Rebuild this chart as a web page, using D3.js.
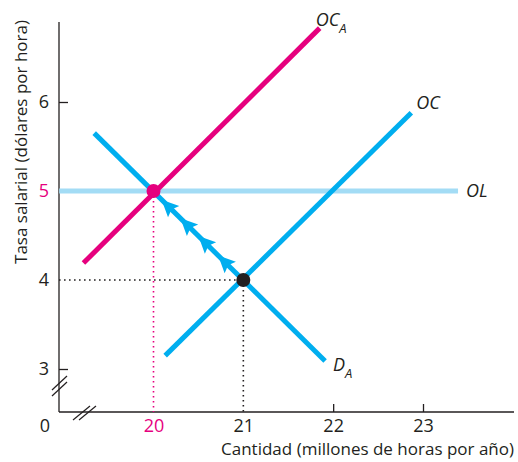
<!DOCTYPE html>
<html><head><meta charset="utf-8">
<script src="https://cdn.jsdelivr.net/npm/d3@7"></script>
<style>body{margin:0;background:#fff}svg{display:block}text{font-family:"Open Sans","Noto Sans",sans-serif;fill:#231f20}</style>
</head><body>
<script>
// ---- data ----
const xTicks = [20, 21, 22, 23];
const yTicks = [3, 4, 5, 6];
const highlightX = 20, highlightY = 5;
const lineOCA = [[19.22, 4.19], [21.85, 6.83]];
const lineOC = [[20.13, 3.15], [22.87, 5.88]];
const lineDA = [[19.34, 5.65], [21.91, 3.09]];
const lineOL = [[18.95, 5], [23.39, 5]];
const eqA = [20, 5];
const eqB = [21, 4];
const arrowXs = [20.09, 20.3, 20.5, 20.72];

const W = 518, H = 462;
const svg = d3.select("body").append("svg").attr("width", W).attr("height", H);
const x = d3.scaleLinear().domain([20, 23]).range([153.5, 423]);
const y = d3.scaleLinear().domain([3, 6]).range([369, 102]);
const originX = 59, originY = 412, topY = 22, rightX = 514;

const magenta = "#e6007e", blue = "#00aeef", light = "#a3dcf5", ink = "#231f20";

svg.append("line").attr("x1", originX).attr("x2", originX).attr("y1", topY).attr("y2", originY).attr("stroke", ink).attr("stroke-width", 1.3);
svg.append("line").attr("x1", originX).attr("x2", rightX).attr("y1", originY).attr("y2", originY).attr("stroke", ink).attr("stroke-width", 1.3);

const xAxis = svg.append("g").attr("transform", `translate(0,${originY})`)
  .call(d3.axisBottom(x).tickValues(xTicks).tickSize(-8).tickPadding(7).tickFormat(d3.format("d")));
const yAxis = svg.append("g").attr("transform", `translate(${originX},0)`)
  .call(d3.axisLeft(y).tickValues(yTicks).tickSize(-9).tickPadding(8).tickFormat(d3.format("d")));
[xAxis, yAxis].forEach(a => {
  a.select(".domain").remove();
  a.selectAll("line").attr("stroke", ink).attr("stroke-width", 1.3);
  a.selectAll("text").attr("font-size", 18).attr("fill", ink).style("fill", ink);
});
xAxis.selectAll(".tick").filter(d => d === 20 || d === 21).select("line").remove();
yAxis.selectAll(".tick").filter(d => d === 4 || d === 5).select("line").remove();
xAxis.selectAll(".tick").filter(d => d === highlightX).select("text").style("fill", magenta);
yAxis.selectAll(".tick").filter(d => d === highlightY).select("text").style("fill", magenta);
yAxis.selectAll("text").attr("dx", -2);

svg.append("text").attr("x", 45).attr("y", 432).attr("text-anchor", "middle").attr("font-size", 18).text("0");

// break marks
const brk = svg.append("g").attr("stroke", ink).attr("stroke-width", 1.2).attr("fill", "none");
[0, 6].forEach(o => {
  brk.append("line").attr("x1", 52).attr("y1", 396 - o).attr("x2", 67).attr("y2", 382 - o).attr("stroke", ink);
  brk.append("line").attr("x1", 73 + o).attr("y1", 420).attr("x2", 90 + o).attr("y2", 406).attr("stroke", ink);
});

// dotted guides
const dot = svg.append("g").attr("fill", "none").attr("stroke-width", 1.6).attr("stroke-dasharray", "1.6,3.4");
dot.append("line").attr("x1", x(eqA[0])).attr("x2", x(eqA[0])).attr("y1", y(eqA[1])).attr("y2", originY).attr("stroke", magenta);
dot.append("line").attr("x1", x(eqB[0])).attr("x2", x(eqB[0])).attr("y1", y(eqB[1])).attr("y2", originY).attr("stroke", ink);
dot.append("line").attr("x1", originX).attr("x2", x(eqB[0])).attr("y1", y(eqB[1])).attr("y2", y(eqB[1])).attr("stroke", ink);

const line = d3.line().x(d => x(d[0])).y(d => y(d[1]));
svg.append("path").attr("d", line(lineOL)).attr("stroke", light).attr("stroke-width", 5).attr("fill", "none");
svg.append("path").attr("d", line(lineOC)).attr("stroke", blue).attr("stroke-width", 5).attr("fill", "none");
svg.append("path").attr("d", line(lineDA)).attr("stroke", blue).attr("stroke-width", 5).attr("fill", "none");
svg.append("path").attr("d", line(lineOCA)).attr("stroke", magenta).attr("stroke-width", 5).attr("fill", "none");

const ang = Math.atan2(y(eqA[1]) - y(eqB[1]), x(eqA[0]) - x(eqB[0])) * 180 / Math.PI;
const daY = v => lineDA[0][1] + (v - lineDA[0][0]) * (lineDA[1][1] - lineDA[0][1]) / (lineDA[1][0] - lineDA[0][0]);
arrowXs.forEach(v => {
  svg.append("path").attr("d", "M0,0 L-17,-8 L-14,0 L-17,8 Z").attr("fill", blue)
    .attr("transform", `translate(${x(v)},${y(daY(v))}) rotate(${ang})`);
});

svg.append("circle").attr("cx", x(eqA[0])).attr("cy", y(eqA[1])).attr("r", 7).attr("fill", magenta);
svg.append("circle").attr("cx", x(eqB[0])).attr("cy", y(eqB[1])).attr("r", 7).attr("fill", ink);

function lab(px, py, main, sub) {
  const t = svg.append("text").attr("x", px).attr("y", py).attr("font-size", 18).attr("font-style", "italic").text(main);
  if (sub) t.append("tspan").attr("dy", 7).attr("font-size", 13).text(sub);
}
lab(x(lineOCA[1][0]) - 4, y(lineOCA[1][1]) - 2, "OC", "A");
lab(x(lineOC[1][0]) + 5, y(lineOC[1][1]) - 4, "OC");
lab(x(lineOL[1][0]) + 8, y(lineOL[1][1]) + 6, "OL");
lab(x(lineDA[1][0]) + 8, y(lineDA[1][1]) + 10, "D", "A");

svg.append("text").attr("x", rightX).attr("y", 455).attr("text-anchor", "end").attr("font-size", 17).text("Cantidad (millones de horas por año)");
svg.append("text").attr("transform", "translate(27,142) rotate(-90)").attr("text-anchor", "middle").attr("font-size", 17).text("Tasa salarial (dólares por hora)");
</script>
</body></html>
